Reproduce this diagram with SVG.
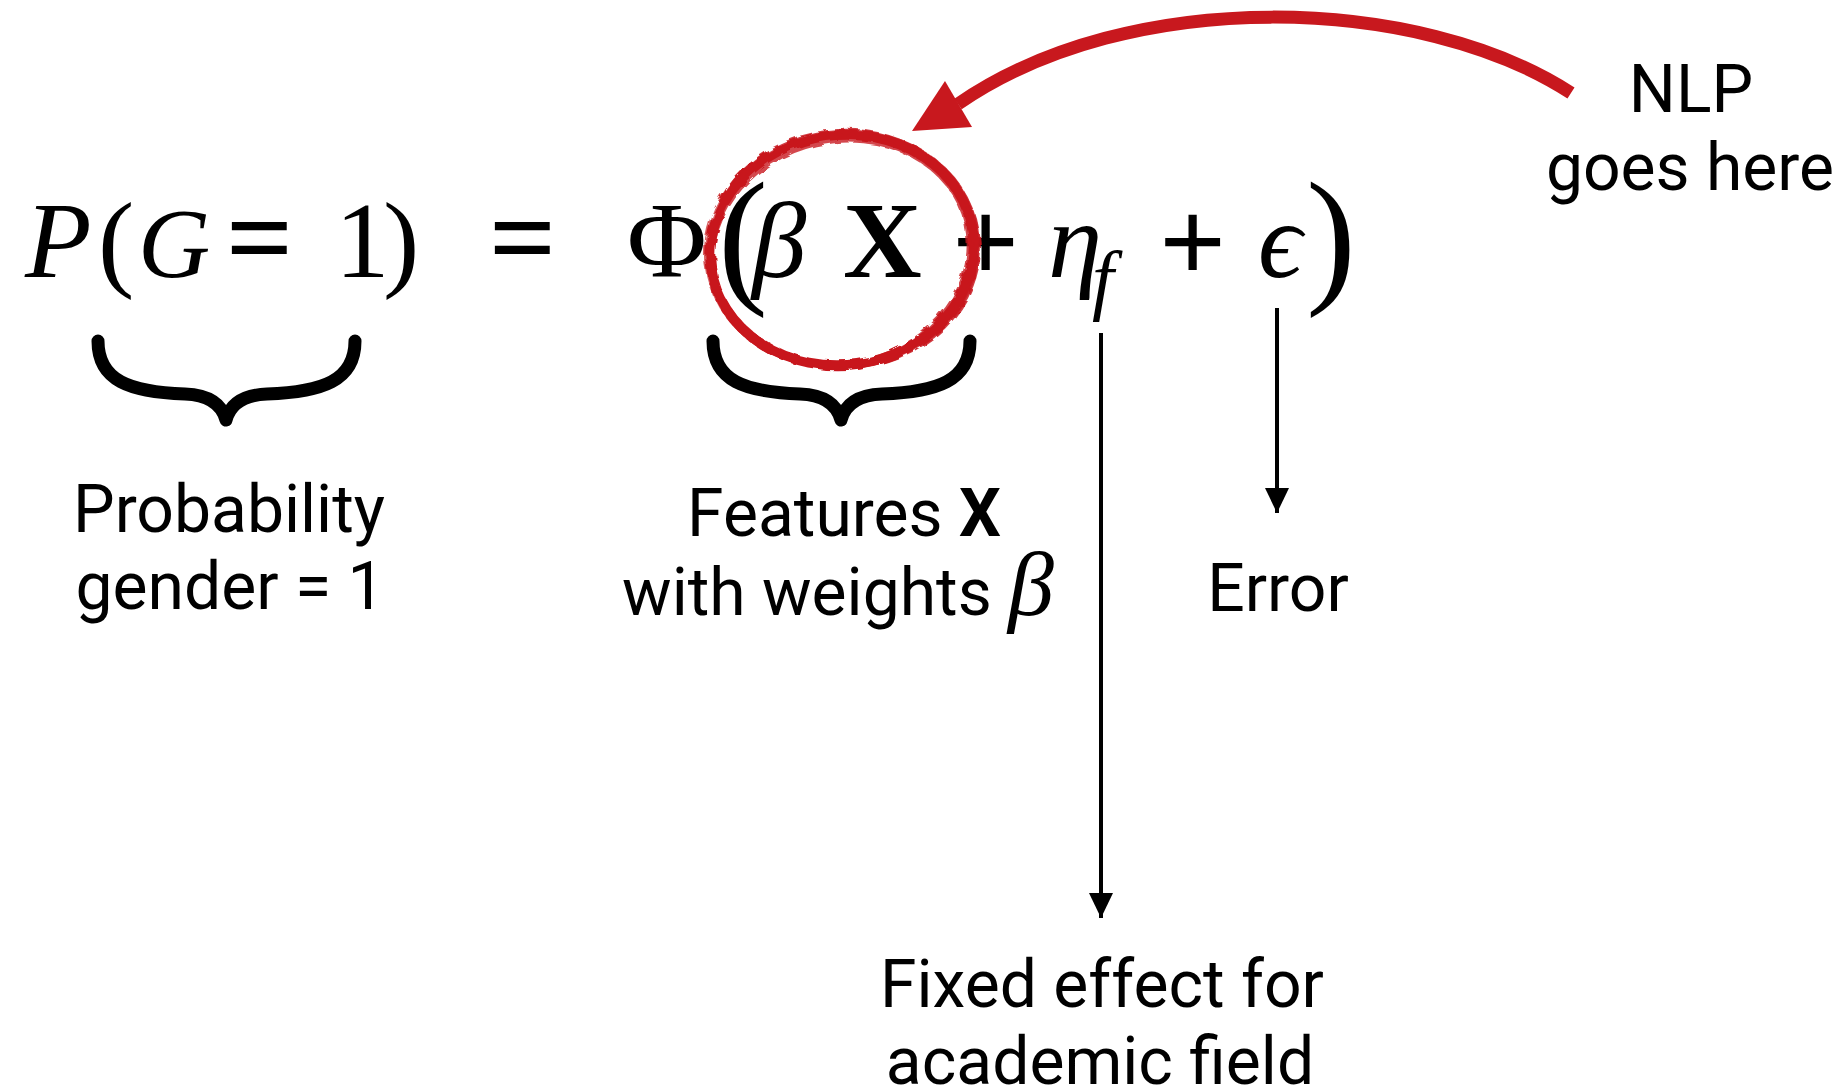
<svg xmlns="http://www.w3.org/2000/svg" width="1847" height="1091" viewBox="0 0 1847 1091">
<defs>
<style>
.m{font-family:"Liberation Serif","DejaVu Serif",serif;fill:#000}
.mi{font-family:"Liberation Serif","DejaVu Serif",serif;font-style:italic;fill:#000}
.op{font-family:"Liberation Serif","DejaVu Serif",serif;font-weight:bold;font-size:118px;fill:#000}
.lab{font-family:Roboto,"Liberation Sans",sans-serif;font-size:66px;fill:#000;text-anchor:middle}
.brace{fill:none;stroke:#000;stroke-width:13;stroke-linecap:round;stroke-linejoin:round}
.conn{fill:none;stroke:#000;stroke-width:4}
.red{fill:none;stroke:#c8181e}
</style>
<marker id="ah" viewBox="0 0 25 24" refX="25" refY="12" markerWidth="25" markerHeight="24" markerUnits="userSpaceOnUse" orient="auto">
<path d="M0,0 L25,12 L0,24 Z" fill="#000"/>
</marker>
<filter id="rough" x="-10%" y="-10%" width="120%" height="120%">
<feTurbulence type="fractalNoise" baseFrequency="0.09" numOctaves="2" seed="3" result="n"/>
<feDisplacementMap in="SourceGraphic" in2="n" scale="6"/>
</filter>
</defs>
<rect width="1847" height="1091" fill="#fff"/>

<g id="equation">
<text class="mi" x="25" y="277" font-size="109">P</text>
<text class="m" x="98" y="277" font-size="109">(</text>
<text class="mi" x="138" y="277" font-size="100">G</text>
<text class="op" x="226" y="277">=</text>
<text class="m" x="335" y="277" font-size="109">1</text>
<text class="m" x="383" y="277" font-size="109">)</text>
<text class="op" x="489" y="277">=</text>
<text class="m" x="627" y="277" font-size="109">Φ</text>
<text class="m" x="718" y="286" font-size="150">(</text>
<text class="mi" x="752" y="277" font-size="109">β</text>
<text class="m" x="843" y="277" font-size="109" font-weight="bold">X</text>
<text class="op" x="952" y="282">+</text>
<text class="mi" x="1048" y="277" font-size="109">η</text>
<text class="mi" x="1092" y="305" font-size="78">f</text>
<text class="op" x="1159" y="282">+</text>
<text class="mi" x="1258" y="277" font-size="109">ϵ</text>
<text class="m" x="1306" y="286" font-size="150">)</text>
</g>

<g id="circle" filter="url(#rough)">
<ellipse class="red" cx="842" cy="250" rx="132" ry="115" stroke-width="10" transform="rotate(-8 842 250)"/>
<ellipse class="red" cx="844" cy="249" rx="134" ry="117" stroke-width="6" opacity="0.85" transform="rotate(-3 842 250)"/>
<ellipse class="red" cx="840" cy="252" rx="130" ry="112" stroke-width="6" opacity="0.8" transform="rotate(-13 842 250)"/>
<ellipse class="red" cx="842" cy="250" rx="137" ry="118" stroke-width="2.5" opacity="0.7" transform="rotate(-6 842 250)"/>
</g>

<g id="brace-left">
<path class="brace" d="M98,341 C98,381 130,392 185,394 C210,395 222,405 226,420 C230,405 242,395 267,394 C322,392 355,381 355,341"/>
</g>
<g id="brace-right">
<path class="brace" transform="translate(615,0)" d="M98,341 C98,381 130,392 185,394 C210,395 222,405 226,420 C230,405 242,395 267,394 C322,392 355,381 355,341"/>
</g>

<g id="connectors">
<line class="conn" x1="1101" y1="333" x2="1101" y2="918" marker-end="url(#ah)"/>
<line class="conn" x1="1277" y1="308" x2="1277" y2="513" marker-end="url(#ah)"/>
<path d="M1571,93 C1420,-5 1130,-15 958,104" fill="none" stroke="#c8181e" stroke-width="13"/>
<polygon points="912,131 945,81 972,127" fill="#c8181e"/>
</g>

<g id="label-probability">
<text class="lab" x="229" y="532">Probability</text>
<text class="lab" x="230" y="609">gender = 1</text>
</g>
<g id="label-features">
<text class="lab" x="844" y="536">Features <tspan font-weight="bold">X</tspan></text>
<text class="lab" x="838" y="615">with weights <tspan font-family="Liberation Serif, serif" font-style="italic" font-size="92">β</tspan></text>
</g>
<g id="label-error">
<text class="lab" x="1278" y="611">Error</text>
</g>
<g id="label-fixed">
<text class="lab" x="1102" y="1007">Fixed effect for</text>
<text class="lab" x="1100" y="1084">academic field</text>
</g>
<g id="label-nlp">
<text class="lab" x="1691" y="112">NLP</text>
<text class="lab" x="1690" y="190">goes here</text>
</g>
</svg>
